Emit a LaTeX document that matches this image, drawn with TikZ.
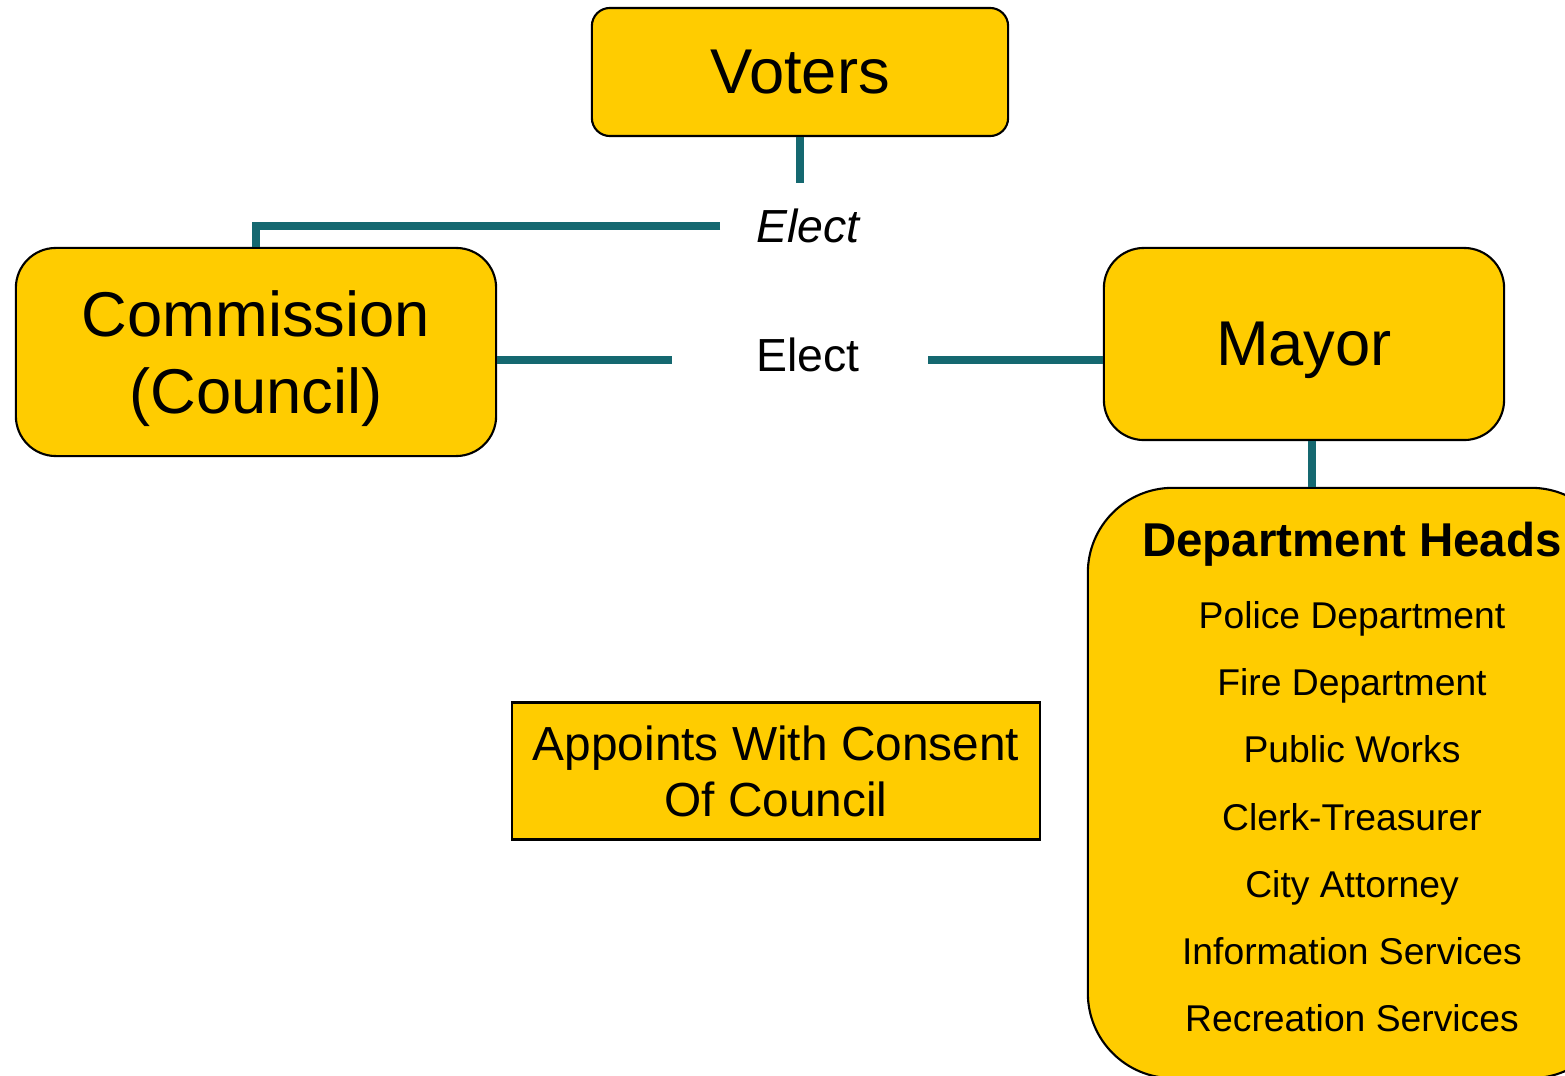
\documentclass[tikz,border=0pt]{standalone}
\usepackage{fontspec}
\setmainfont{Liberation Sans}
\usetikzlibrary{positioning}
\definecolor{govgold}{HTML}{FFCC00}
\definecolor{govteal}{HTML}{156870}

\begin{document}
\begin{tikzpicture}[
		x=0.01cm, y=-0.01cm,
		office/.style={
			rectangle,
			rounded corners=0.4cm,
			draw=black,
			line width=0.6pt,
			fill=govgold,
			align=center,
			inner sep=0pt,
			font=\fontsize{18}{21.9}\selectfont
		},
		note/.style={
			rectangle,
			draw=black,
			line width=0.6pt,
			fill=govgold,
			align=center,
			inner sep=0pt,
			font=\fontsize{13.6}{15.9}\selectfont
		},
		elect/.style={
			font=\fontsize{13.2}{15}\selectfont
		},
		link/.style={
			draw=govteal,
			line width=0.08cm
		}
		]
		\path[use as bounding box, clip] (0,0) rectangle (1565,1076);
		% We start by placing the blocks

		\node [office, rounded corners=0.18cm, minimum width=4.16cm, minimum height=1.28cm] (voters) at (800,72) {Voters};

		\node [office, minimum width=4.8cm, minimum height=2.08cm, text depth=0pt] (commission) at (256,352)
		{Commission\\(Council)};

		\node [office, minimum width=4cm, minimum height=1.92cm, text depth=0pt] (mayor) at (1304,344) {Mayor};

		\node [note, minimum width=5.28cm, minimum height=1.37cm] (appoints) at (776,771)
		{Appoints With Consent\\Of Council};

		\node [office, rounded corners=0.85cm, minimum width=5.28cm, minimum height=5.9cm,
			text depth=3.5pt, font=\fontsize{10.6}{19.1}\selectfont] (depts) at (1352,783)
		{%
			{\fontsize{13.5}{16}\selectfont\bfseries Department Heads}\\[1.4pt]
			Police Department\\
			Fire Department\\
			Public Works\\
			Clerk-Treasurer\\
			City Attorney\\
			Information Services\\
			Recreation Services
		};

		\node [elect, font=\fontsize{13.2}{15}\selectfont\itshape] (electtop) at (808,226) {Elect};
		\node [elect] (electmid) at (808,355) {Elect};

		% connectors
		\coordinate (vstub) at (800,183);
		\coordinate (hend) at (720,226);
		\coordinate (cstop) at (672,360);
		\coordinate (mstop) at (928,360);

		\draw [link] (voters.south) -- (vstub);
		\draw [link] (hend) -| (commission.north);
		\draw [link] (commission.east |- cstop) -- (cstop);
		\draw [link] (mayor.west |- mstop) -- (mstop);
		\draw [link] ([xshift=0.08cm]mayor.south) -- ([xshift=0.08cm]mayor.south |- depts.north);

		\end{tikzpicture}
\end{document}
